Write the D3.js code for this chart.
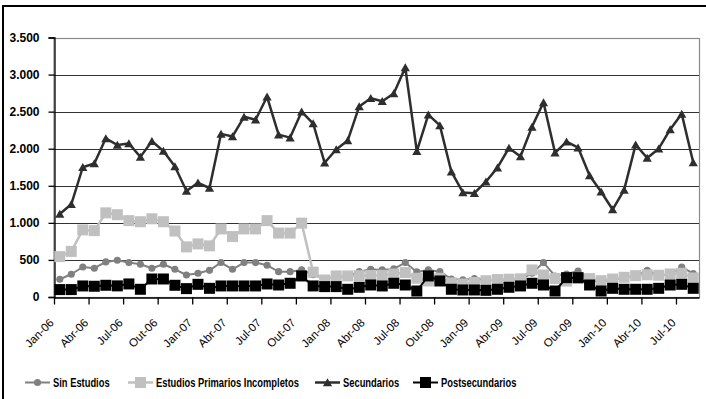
<!DOCTYPE html>
<html>
<head>
<meta charset="utf-8">
<script src="https://cdn.jsdelivr.net/npm/d3@7"></script>
<style>
  html, body { margin: 0; padding: 0; background: #fff; }
  svg { display: block; }
</style>
</head>
<body>
<svg id="chart" width="706" height="399"></svg>
<script>
// Monthly categories, Jan-06 .. Ago-10
const categories = [
  "Jan-06","Fev-06","Mar-06","Abr-06","Mai-06","Jun-06","Jul-06","Ago-06","Set-06","Out-06","Nov-06","Dez-06",
  "Jan-07","Fev-07","Mar-07","Abr-07","Mai-07","Jun-07","Jul-07","Ago-07","Set-07","Out-07","Nov-07","Dez-07",
  "Jan-08","Fev-08","Mar-08","Abr-08","Mai-08","Jun-08","Jul-08","Ago-08","Set-08","Out-08","Nov-08","Dez-08",
  "Jan-09","Fev-09","Mar-09","Abr-09","Mai-09","Jun-09","Jul-09","Ago-09","Set-09","Out-09","Nov-09","Dez-09",
  "Jan-10","Fev-10","Mar-10","Abr-10","Mai-10","Jun-10","Jul-10","Ago-10"
];

const sinEstudios = [
  239, 307, 405, 388, 473, 496, 464, 442, 388, 442, 374, 297,
  320, 360, 465, 374, 464, 464, 428, 342, 342, 365, 300, 250,
  270, 280, 342, 374, 365, 379, 464, 338, 365, 342, 243, 232,
  250, 225, 230, 235, 240, 320, 464, 284, 310, 351, 230, 200,
  235, 260, 285, 360, 290, 300, 405, 315
];

const primariosIncompletos = [
  545, 615, 905, 895, 1135, 1110, 1030, 1015, 1055, 1015, 890, 676,
  716, 690, 918, 815, 918, 918, 1030, 862, 862, 996, 335, 230,
  284, 284, 288, 290, 292, 310, 329, 253, 216, 253, 190, 175,
  196, 220, 235, 240, 245, 365, 297, 250, 215, 250, 248, 220,
  243, 266, 288, 300, 293, 311, 320, 257
];

const secundarios = [
  1120, 1250, 1750, 1800, 2140, 2050, 2070, 1890, 2100, 1970, 1760, 1430,
  1540, 1470, 2200, 2165, 2430, 2390, 2700, 2190, 2150, 2500, 2340, 1810,
  1990, 2110, 2570, 2680, 2640, 2745, 3095, 1965, 2460, 2315, 1690, 1410,
  1400, 1555, 1745, 2010, 1895, 2295, 2625, 1945, 2095, 2015, 1640, 1420,
  1180, 1445, 2055, 1875, 2000, 2260, 2470, 1815
];

const postsecundarios = [
  100, 100, 149, 145, 158, 150, 176, 104, 243, 243, 158, 113,
  171, 117, 149, 149, 149, 149, 176, 162, 185, 284, 149, 140,
  140, 104, 131, 162, 149, 185, 162, 81, 284, 216, 104, 95,
  95, 90, 104, 131, 149, 185, 162, 81, 261, 261, 162, 81,
  117, 104, 104, 104, 117, 162, 171, 117
];

const yTicks = [0, 500, 1000, 1500, 2000, 2500, 3000, 3500];
const seriesNames = ["Sin Estudios", "Estudios Primarios Incompletos", "Secundarios", "Postsecundarios"];

// ---- styling of each series ----
const seriesStyle = [
  { values: sinEstudios,          color: "#808080", width: 2,   marker: "circle"   },
  { values: primariosIncompletos, color: "#c0c0c0", width: 2.5, marker: "square"   },
  { values: secundarios,          color: "#2e2e2e", width: 2.5, marker: "triangle" },
  { values: postsecundarios,      color: "#000000", width: 2,   marker: "square"   }
];

const svg = d3.select("#chart");
const W = 706, H = 399;
svg.append("rect").attr("width", W).attr("height", H).attr("fill", "#fff");

// outer chart frame (runs past the right and bottom edges)
svg.append("rect")
  .attr("x", 3).attr("y", 6).attr("width", 730).attr("height", 430)
  .attr("fill", "none").attr("stroke", "#000").attr("stroke-width", 2);

const plot = { left: 54, right: 699, top: 37.5, bottom: 297 };
const n = categories.length;

const x = d3.scaleLinear().domain([0, n]).range([plot.left, plot.right]);
const y = d3.scaleLinear().domain([0, 3500]).range([plot.bottom, plot.top]);
const cx = i => x(i + 0.5);

const locale = d3.formatLocale({ decimal: ",", thousands: ".", grouping: [3], currency: ["", ""] });
const fmt = locale.format(",d");

// horizontal gridlines
svg.append("g").selectAll("line")
  .data(yTicks.filter(t => t > 0 && t < 3500))
  .join("line")
  .attr("x1", plot.left).attr("x2", plot.right)
  .attr("y1", d => Math.round(y(d)) + 0.5).attr("y2", d => Math.round(y(d)) + 0.5)
  .attr("stroke", "#333").attr("stroke-width", 1.2);

// plot area border
svg.append("rect")
  .attr("x", plot.left).attr("y", Math.round(plot.top) + 0.5)
  .attr("width", plot.right - plot.left + 0.5)
  .attr("height", plot.bottom - Math.round(plot.top))
  .attr("fill", "none").attr("stroke", "#8a8a8a").attr("stroke-width", 1.2);

// y axis
const yAxis = svg.append("g")
  .attr("transform", `translate(${plot.left + 0.5},0)`)
  .call(d3.axisLeft(y).tickValues(yTicks).tickSize(6).tickPadding(9).tickFormat(fmt));
yAxis.select(".domain").attr("stroke", "#000").attr("stroke-width", 1.3);
yAxis.selectAll(".tick line").attr("stroke", "#000").attr("stroke-width", 1.3);
yAxis.selectAll(".tick text")
  .attr("font-family", "'Liberation Sans', Arial, sans-serif")
  .attr("font-size", 12).attr("font-weight", "bold").attr("fill", "#000");

// x axis: ticks on category boundaries every three months
const xAxis = svg.append("g")
  .attr("transform", `translate(0,${plot.bottom + 0.5})`)
  .call(d3.axisBottom(x).tickValues(d3.range(0, n, 3)).tickSize(7).tickSizeOuter(0)
    .tickFormat(i => categories[i]));
xAxis.select(".domain").attr("stroke", "#000").attr("stroke-width", 1.3);
xAxis.selectAll(".tick line").attr("stroke", "#000").attr("stroke-width", 1.3);
xAxis.selectAll(".tick text")
  .attr("font-family", "'Liberation Sans', Arial, sans-serif")
  .attr("font-size", 11.5).attr("fill", "#000")
  .attr("text-anchor", "end")
  .attr("x", 0).attr("y", 0).attr("dy", 0)
  .attr("transform", "translate(0,26) rotate(-45)");

// marker shapes
function markerPath(type) {
  if (type === "circle") return d3.symbol(d3.symbolCircle, 40)();
  if (type === "square") return "M-5.5,-5.5H5.5V5.5H-5.5Z";
  return "M0,-4.2L4.6,3.8L-4.6,3.8Z";
}

const line = d3.line().x((d, i) => cx(i)).y(d => y(d));

seriesStyle.forEach(s => {
  const g = svg.append("g");
  g.append("path")
    .datum(s.values)
    .attr("d", line)
    .attr("fill", "none")
    .attr("stroke", s.color)
    .attr("stroke-width", s.width)
    .attr("stroke-linejoin", "round");
  g.selectAll("path.mk")
    .data(s.values)
    .join("path")
    .attr("class", "mk")
    .attr("d", markerPath(s.marker))
    .attr("transform", (d, i) => `translate(${cx(i)},${y(d)})`)
    .attr("fill", s.color);
});

// legend
const legendX = [25, 128, 315, 413];
const legendY = 382.5;
const legend = svg.append("g");
seriesStyle.forEach((s, k) => {
  const g = legend.append("g").attr("transform", `translate(${legendX[k]},${legendY})`);
  g.append("line").attr("x1", 0).attr("x2", 25).attr("y1", 0).attr("y2", 0)
    .attr("stroke", s.color).attr("stroke-width", s.width);
  g.append("path").attr("d", markerPath(s.marker))
    .attr("transform", "translate(12.5,0)").attr("fill", s.color);
  g.append("text")
    .attr("transform", "translate(28,4.3) scale(0.78,1)")
    .attr("font-family", "'Liberation Sans', Arial, sans-serif")
    .attr("font-size", 12).attr("font-weight", "bold").attr("fill", "#000")
    .text(seriesNames[k]);
});
</script>
</body>
</html>
